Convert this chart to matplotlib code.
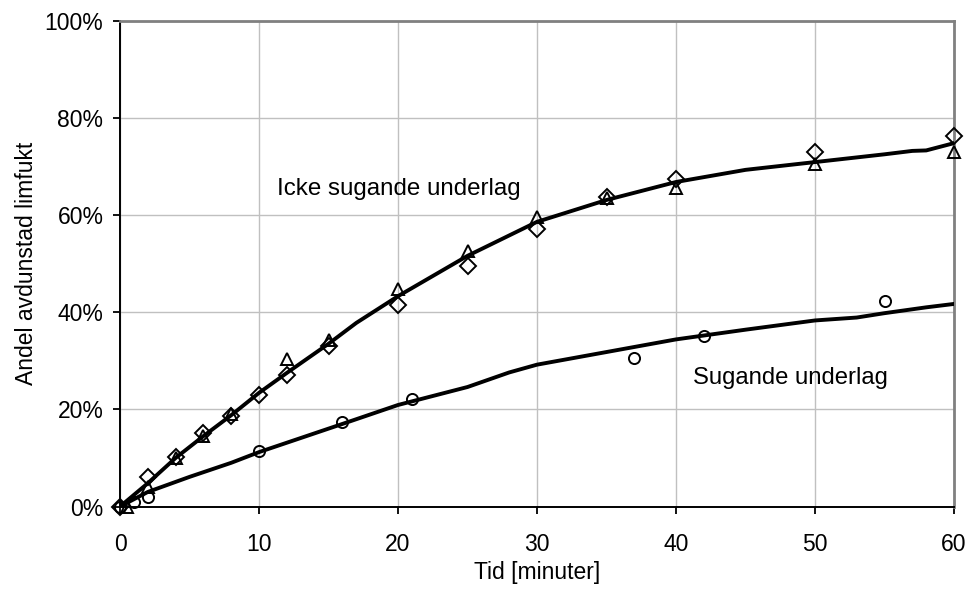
import matplotlib
matplotlib.use("Agg")
import matplotlib.pyplot as plt
from matplotlib.ticker import PercentFormatter

plt.rcParams['font.family'] = ['Liberation Sans', 'DejaVu Sans']

# mätpunkter, icke sugande underlag (två serier)
t_diamond = [0, 2, 4, 6, 8, 10, 12, 15, 20, 25, 30, 35, 40, 50, 60]
y_diamond = [0, 6.0, 10.2, 15.1, 18.6, 23.0, 27.0, 33.0, 41.5, 49.5, 57.2, 63.7, 67.4, 72.9, 76.2]
t_triangle = [0.5, 2, 4, 6, 8, 12, 15, 20, 25, 30, 35, 40, 50, 60]
y_triangle = [0, 4.0, 10.0, 14.5, 19.0, 30.3, 34.2, 44.8, 52.5, 59.5, 63.5, 65.6, 70.5, 72.9]

# mätpunkter, sugande underlag
t_circle = [0, 1, 2, 10, 16, 21, 37, 42, 55]
y_circle = [0, 1.0, 2.0, 11.4, 17.3, 22.2, 30.5, 35.2, 42.4]

# anpassade kurvor
t_fit_icke = [0, 2, 4, 6, 8, 10, 12, 15, 17, 20, 25, 30, 35, 40, 45, 50, 55, 57, 58, 60]
y_fit_icke = [0, 4.8, 10.0, 14.5, 18.8, 23.4, 27.5, 33.5, 37.8, 43.3, 51.6, 58.6, 63.1,
              66.8, 69.3, 70.9, 72.5, 73.2, 73.3, 74.8]
t_fit_sug = [0, 2, 5, 8, 10, 13, 16, 20, 25, 28, 30, 35, 40, 45, 50, 53, 55, 58, 60]
y_fit_sug = [0, 3.0, 6.1, 9.0, 11.2, 14.1, 17.0, 20.9, 24.6, 27.6, 29.2, 31.8, 34.4,
             36.4, 38.3, 38.9, 39.8, 41.0, 41.7]

fig = plt.figure(figsize=(9.72, 5.90), dpi=100)
ax = fig.add_axes([0.1235, 0.1415, 0.858, 0.8234])

ax.plot(t_fit_icke, y_fit_icke, color='black', lw=2.8, solid_joinstyle='round', zorder=3)
ax.plot(t_fit_sug, y_fit_sug, color='black', lw=2.8, solid_joinstyle='round', zorder=3)

mk = dict(linestyle='none', mfc='none', mec='black', mew=1.4, zorder=4, clip_on=False)
ax.plot(t_diamond, y_diamond, marker='D', ms=8.3, **mk)
ax.plot(t_triangle, y_triangle, marker='^', ms=9.2, **mk)
ax.plot(t_circle, y_circle, marker='o', ms=8.0, **mk)

ax.text(11.3, 65.4, 'Icke sugande underlag', fontsize=17.4, va='center', ha='left')
ax.text(41.2, 26.4, 'Sugande underlag', fontsize=17.2, va='center', ha='left')

ax.set_xlim(0, 60)
ax.set_ylim(0, 100)
ax.set_xticks(range(0, 61, 10))
ax.set_yticks(range(0, 101, 20))
ax.yaxis.set_major_formatter(PercentFormatter(decimals=0))
ax.grid(True, color='#c0c0c0', lw=1.0)
ax.set_axisbelow(True)

ax.tick_params(labelsize=16.5, length=5, width=1.3, direction='out', color='black')
ax.tick_params(axis='y', pad=7)
ax.tick_params(axis='x', pad=14)

for s in ('left', 'bottom'):
    ax.spines[s].set_color('black')
    ax.spines[s].set_linewidth(1.4)
for s in ('top', 'right'):
    ax.spines[s].set_color('#808080')
    ax.spines[s].set_linewidth(2.0)

ax.set_xlabel('Tid [minuter]', fontsize=16.5, labelpad=4)
ax.set_ylabel('Andel avdunstad limfukt', fontsize=16.5, labelpad=5)

fig.savefig('out.png', dpi=100)
